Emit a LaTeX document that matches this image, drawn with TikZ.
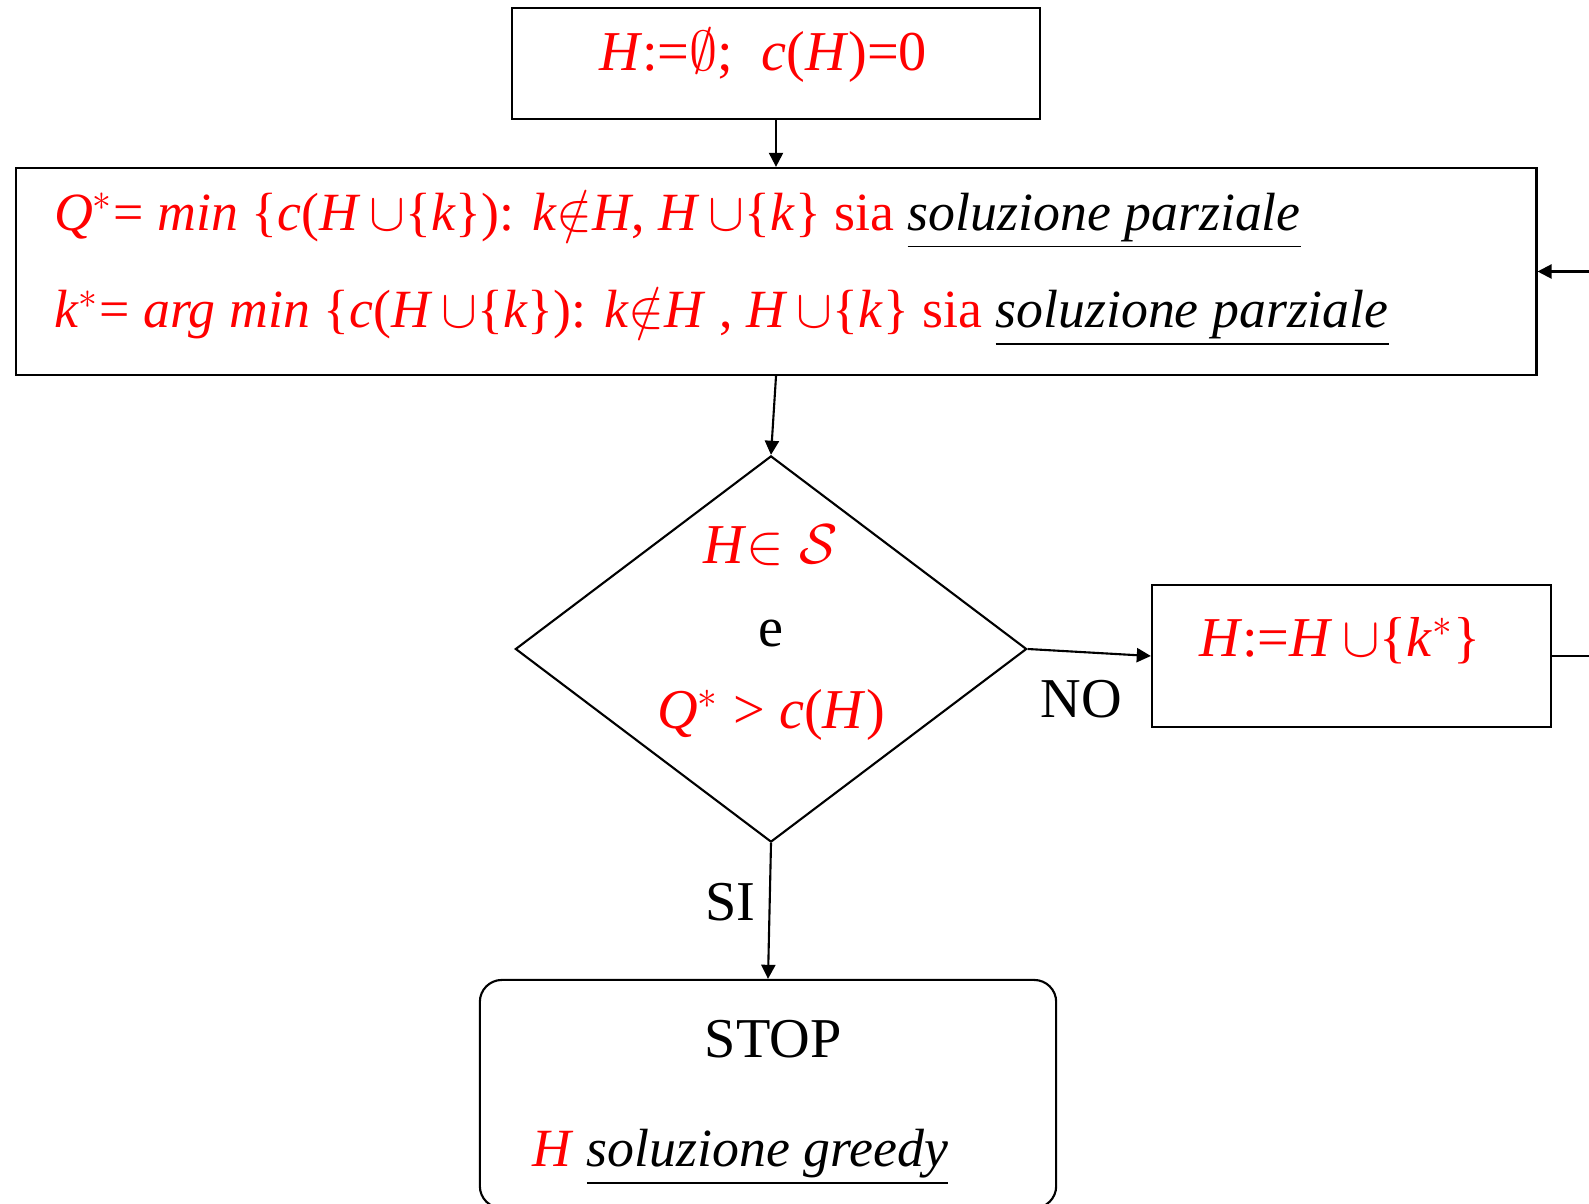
\documentclass[tikz,border=0pt]{standalone}
\usepackage{fix-cm}
\usepackage{fontspec}
\setmainfont{Liberation Serif}
\usetikzlibrary{arrows.meta, shapes.geometric}
\definecolor{cred}{HTML}{FF0000}
\newcommand{\undit}[1]{\textcolor{black}{\underline{\textit{#1}}}}
\tikzset{
  every picture/.style={line width=0.6pt},
  box/.style={draw, inner sep=0pt},
  txt/.style={text=cred, inner sep=0pt, font=\fontsize{16}{20}\selectfont},
  lbl/.style={text=black, inner sep=0pt, font=\fontsize{16}{20}\selectfont},
  arrow/.style={-{Triangle[length=4pt, width=4pt]}},
}

\begin{document}
\begin{tikzpicture}[x=0.01cm, y=-0.01cm]
  \useasboundingbox (0,0) rectangle (1589,1204);
  % boxes
  \node[box, minimum width=5.28cm, minimum height=1.11cm] (init) at (776,63.5) {};
  \node[box, minimum width=15.2cm, minimum height=2.07cm] (sel) at (776,271.5) {};
  \node[box, diamond, minimum width=5.11cm, minimum height=3.86cm] (test) at (771,649) {};
  \node[box, minimum width=3.99cm, minimum height=1.42cm] (upd) at (1351.5,656) {};
  \node[box, rounded corners=0.22cm, minimum width=5.76cm, minimum height=2.28cm] (stop) at (768,1094) {};
  % texts
  \node[txt] (initlbl) at (763,55) {\textit{H}:=$\emptyset$;~~\textit{c}(\textit{H})=0};
  \node[txt, anchor=west, align=left, font=\fontsize{15.3}{27.8}\selectfont] (sellbl) at (53,268)
    {\textit{Q}$^*$= \textit{min} \{\textit{c}(\textit{H}$\,\cup$\{\textit{k}\}): \textit{k}$\notin$\textit{H}, \textit{H}$\,\cup$\{\textit{k}\} sia \undit{soluzione parziale}\\
     \textit{k}$^*$= \textit{arg min} \{\textit{c}(\textit{H}$\,\cup$\{\textit{k}\}): \textit{k}$\notin$\textit{H} , \textit{H}$\,\cup$\{\textit{k}\} sia \undit{soluzione parziale}};
  \node[txt, align=center, font=\fontsize{16}{23.5}\selectfont] (testlbl) at (771,633)
    {\textit{H}$\in\mathcal{S}$\\ \textcolor{black}{e}\\ \textit{Q}$^*$ > \textit{c}(\textit{H})};
  \node[txt] (updlbl) at (1340,641) {\textit{H}:=\textit{H}$\,\cup$\{\textit{k}$^*$\}};
  \node[lbl] (stoplbl) at (773,1039) {STOP};
  \node[txt, anchor=west, font=\fontsize{15.3}{20}\selectfont] (stopres) at (531,1157) {\textit{H} \undit{soluzione greedy}};
  \node[lbl] (no) at (1081,699) {NO};
  \node[lbl] (si) at (730,902) {SI};
  % connectors
  \draw[arrow] (init) -- (sel);
  \draw[arrow] (sel.south) -- (test.north);
  \draw[arrow] (test.east) -- (upd.west);
  \draw[arrow] (test.south) -- (stop.north);
  \draw[arrow] (upd.east) -- ++(70,0) |- (sel.east);
\end{tikzpicture}
\end{document}
